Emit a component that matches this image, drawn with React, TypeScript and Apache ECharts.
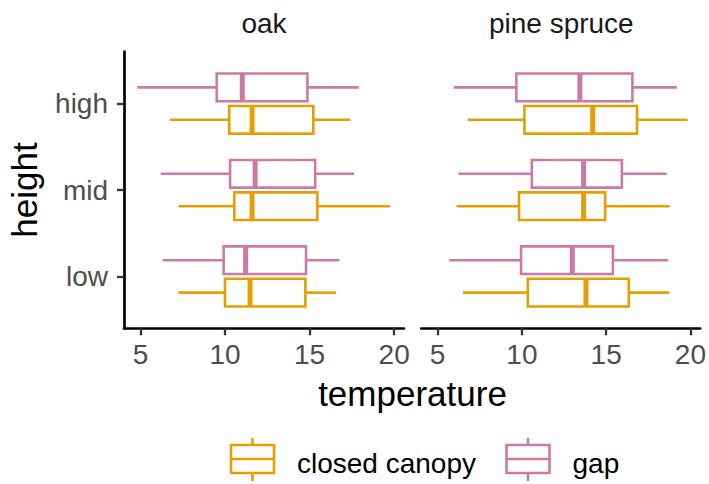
import React, { useEffect, useRef } from 'react';
import * as echarts from 'echarts';

// Facets, groups and the discrete height levels
const facets = ['oak', 'pine spruce'];
const groups = ['closed canopy', 'gap'];
const heights = ['low', 'mid', 'high'];
const xTicks = [5, 10, 15, 20];
const yTicks = [1, 2, 3];

// Each row: [lower whisker, Q1, median, Q3, upper whisker]; rows ordered low, mid, high
const oakClosedCanopy = [
  [7.24, 10.0, 11.48, 14.75, 16.57],
  [7.26, 10.55, 11.6, 15.46, 19.76],
  [6.75, 10.25, 11.6, 15.22, 17.4],
];
const oakGap = [
  [6.31, 9.92, 11.22, 14.79, 16.76],
  [6.2, 10.3, 11.78, 15.33, 17.63],
  [4.81, 9.51, 11.02, 14.87, 17.91],
];
const pineSpruceClosedCanopy = [
  [6.5, 10.35, 13.8, 16.34, 18.75],
  [6.12, 9.83, 13.66, 14.94, 18.77],
  [6.78, 10.15, 14.2, 16.83, 19.83],
];
const pineSpruceGap = [
  [5.69, 9.95, 12.99, 15.4, 18.67],
  [6.24, 10.59, 13.66, 15.93, 18.59],
  [5.95, 9.67, 13.44, 16.56, 19.2],
];

const groupColors = ['#E69F00', '#CC79A7'];
const groupOffsets = [-0.1875, 0.1875];
const FONT = '"Liberation Sans", Arial, Helvetica, sans-serif';
const LW = 2.6;

const panelData = [
  [oakClosedCanopy, oakGap],
  [pineSpruceClosedCanopy, pineSpruceGap],
];

const makeRenderItem = (offset: number, color: string) => (_params: any, api: any) => {
  const half = 0.16;
  const yv = api.value(0) + offset;
  const pt = (x: number, y: number) => api.coord([x, y]);
  const [xw1, yc] = pt(api.value(1), yv);
  const xq1 = pt(api.value(2), yv)[0];
  const xm = pt(api.value(3), yv)[0];
  const xq3 = pt(api.value(4), yv)[0];
  const xw2 = pt(api.value(5), yv)[0];
  const yTop = pt(api.value(2), yv + half)[1];
  const yBot = pt(api.value(2), yv - half)[1];
  return {
    type: 'group',
    children: [
      { type: 'line', shape: { x1: xw1, y1: yc, x2: xq1, y2: yc }, style: { stroke: color, lineWidth: LW } },
      { type: 'line', shape: { x1: xq3, y1: yc, x2: xw2, y2: yc }, style: { stroke: color, lineWidth: LW } },
      {
        type: 'rect',
        shape: { x: xq1, y: yTop, width: xq3 - xq1, height: yBot - yTop },
        style: { fill: '#ffffff', stroke: color, lineWidth: LW },
      },
      { type: 'line', shape: { x1: xm, y1: yTop, x2: xm, y2: yBot }, style: { stroke: color, lineWidth: 5 } },
    ],
  };
};

const legendKey = (x: number, color: string, label: string) => {
  const top = 445;
  const bottom = 473;
  const w = 43;
  const cx = x + w / 2;
  return [
    { type: 'line', shape: { x1: cx, y1: 438, x2: cx, y2: top }, style: { stroke: color, lineWidth: LW } },
    { type: 'line', shape: { x1: cx, y1: bottom, x2: cx, y2: 481 }, style: { stroke: color, lineWidth: LW } },
    { type: 'rect', shape: { x, y: top, width: w, height: bottom - top }, style: { fill: '#ffffff', stroke: color, lineWidth: LW } },
    { type: 'line', shape: { x1: x, y1: 459, x2: x + w, y2: 459 }, style: { stroke: color, lineWidth: LW } },
    {
      type: 'text',
      x: x + w + 23,
      y: 463,
      style: { text: label, fontSize: 28, fontFamily: FONT, fill: '#000000', align: 'left', verticalAlign: 'middle' },
    },
  ];
};

export default function App() {
  const ref = useRef<HTMLDivElement>(null);

  useEffect(() => {
    if (!ref.current) return;
    const chart = echarts.init(ref.current, undefined, { renderer: 'svg' });

    const grids = [
      { left: 124, top: 51.7, width: 280, height: 276.6 },
      { left: 421.3, top: 51.7, width: 280, height: 276.6 },
    ];

    const xAxes = grids.map((_, i) => ({
      type: 'value',
      gridIndex: i,
      min: 4.03,
      max: 20.58,
      splitLine: { show: false },
      axisLine: { show: true, lineStyle: { color: '#000000', width: 2.7 } },
      axisTick: { show: true, customValues: xTicks, length: 7, lineStyle: { color: '#333333', width: 2.3 } },
      axisLabel: { customValues: xTicks, color: '#4D4D4D', fontSize: 28, fontFamily: FONT, margin: 12 },
    }));

    const yAxes = grids.map((_, i) => ({
      type: 'value',
      gridIndex: i,
      min: 0.4,
      max: 3.6,
      show: i === 0,
      splitLine: { show: false },
      axisLine: { show: true, lineStyle: { color: '#000000', width: 2.7 } },
      axisTick: { show: true, customValues: yTicks, length: 7, lineStyle: { color: '#333333', width: 2.3 } },
      axisLabel: {
        customValues: yTicks,
        color: '#4D4D4D',
        fontSize: 28,
        fontFamily: FONT,
        margin: 16,
        formatter: (v: number) => heights[Math.round(v) - 1] ?? '',
      },
    }));

    const series: any[] = [];
    panelData.forEach((pair, f) => {
      pair.forEach((rows, g) => {
        series.push({
          type: 'custom',
          name: `${facets[f]} – ${groups[g]}`,
          xAxisIndex: f,
          yAxisIndex: f,
          dimensions: ['height', 'lo', 'q1', 'med', 'q3', 'hi'],
          encode: { x: [1, 2, 3, 4, 5], y: 0 },
          data: rows.map((r, i) => [i + 1, ...r]),
          renderItem: makeRenderItem(groupOffsets[g], groupColors[g]),
          silent: true,
        });
      });
    });

    const textStyle = (text: string, size: number, fill: string) => ({
      text,
      fontSize: size,
      fontFamily: FONT,
      fill,
      align: 'center',
      verticalAlign: 'middle',
    });

    const graphic: any[] = [
      // facet strip labels
      { type: 'text', x: 264, y: 23.6, style: textStyle(facets[0], 28, '#1A1A1A') },
      { type: 'text', x: 561.3, y: 23.6, style: textStyle(facets[1], 28, '#1A1A1A') },
      // axis titles
      { type: 'text', x: 412.5, y: 393.4, style: textStyle('temperature', 35, '#000000') },
      { type: 'text', x: 24, y: 190, rotation: Math.PI / 2, style: textStyle('height', 35, '#000000') },
      // legend
      ...legendKey(231, groupColors[0], groups[0]),
      ...legendKey(506.5, groupColors[1], groups[1]),
    ];

    chart.setOption({
      animation: false,
      backgroundColor: '#ffffff',
      grid: grids,
      xAxis: xAxes,
      yAxis: yAxes,
      series,
      graphic,
    });

    return () => chart.dispose();
  }, []);

  return (
    <div
      ref={ref}
      style={{ position: 'fixed', left: 0, top: 0, width: 709, height: 484, background: '#ffffff' }}
    />
  );
}
